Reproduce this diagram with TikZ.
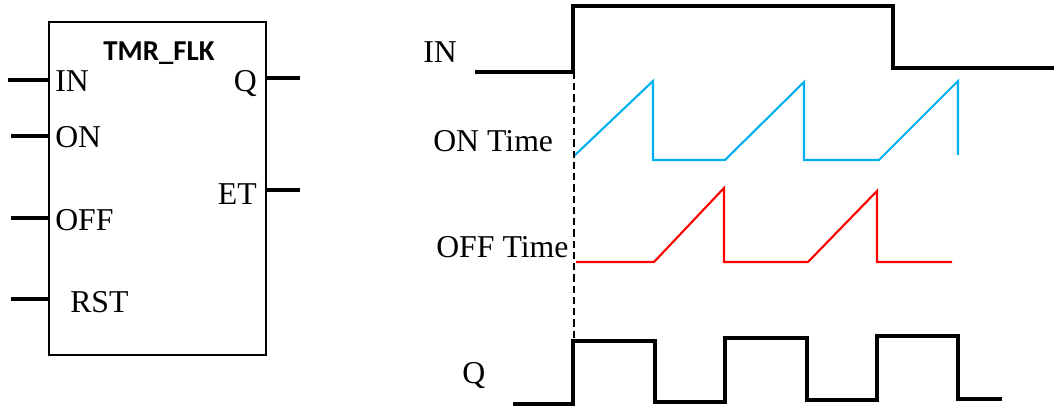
\documentclass[tikz,border=0pt]{standalone}
\usepackage{fontspec}
\setmainfont{Liberation Serif}
\newfontfamily\titlefont{Carlito}
\usetikzlibrary{positioning,calc}
\definecolor{ontime}{HTML}{00B0F0}
\definecolor{offtime}{HTML}{FF0000}

\begin{document}
\begin{tikzpicture}[x=0.025cm, y=-0.025cm,
    fblock/.style={draw, rectangle, line width=2pt, minimum width=5.425cm, minimum height=8.325cm, inner sep=0pt},
    pin/.style={line width=2.2pt},
    pinlabel/.style={font=\fontsize{22.6}{26}\selectfont, inner sep=0pt},
    title/.style={font=\titlefont\bfseries\fontsize{20.5}{24}\selectfont, inner sep=0pt},
    wave/.style={line width=2.4pt, line join=miter},
    ramp/.style={line width=1.5pt},
    marker/.style={line width=1.5pt, dash pattern=on 5pt off 3pt},
]
\useasboundingbox (0,0) rectangle (1054,407);

% Function block
\node[fblock] (fb) at (157.5,188.5) {};
\node[title] (fbname) at (159,53) {TMR\_FLK};

% Inputs
\coordinate (inIN) at (8,80);
\coordinate (inON) at (11,136);
\coordinate (inOFF) at (11,218);
\coordinate (inRST) at (11,299);
\draw[pin] (inIN) -- (inIN -| fb.west);
\draw[pin] (inON) -- (inON -| fb.west);
\draw[pin] (inOFF) -- (inOFF -| fb.west);
\draw[pin] (inRST) -- (inRST -| fb.west);
\node[pinlabel, anchor=base west] (lIN) at (55,92) {IN};
\node[pinlabel, anchor=base west] (lON) at (55,148) {ON};
\node[pinlabel, anchor=base west] (lOFF) at (55,230) {OFF};
\node[pinlabel, anchor=base west] (lRST) at (70,312) {RST};

% Outputs
\coordinate (outQ) at (300,78);
\coordinate (outET) at (300,190);
\draw[pin] (outQ -| fb.east) -- (outQ);
\draw[pin] (outET -| fb.east) -- (outET);
\node[pinlabel, anchor=base east] (lQ) at (257,92) {Q};
\node[pinlabel, anchor=base east] (lET) at (257,204) {ET};

% Timing labels
\node[pinlabel, anchor=base west] (tIN) at (423,63) {IN};
\node[pinlabel, anchor=base west] (tON) at (433,152) {ON Time};
\node[pinlabel, anchor=base west] (tOFF) at (436,257) {OFF Time};
\node[pinlabel, anchor=base west] (tQ) at (462,383) {Q};

% IN signal
\draw[wave] (475,72) -- (573,72) -- (573,6) -- (893,6) -- (893,68) -- (1054,68);

% ON time
\draw[ramp, ontime] (574,156) -- (653,81) -- (653,160) -- (725,160) -- (804,82) -- (804,160) -- (879,160) -- (958,81) -- (958,155);

% OFF time
\draw[ramp, offtime] (576,262) -- (654,262) -- (724,188) -- (724,262) -- (808,262) -- (877,191) -- (877,262) -- (952,262);

% Q output
\draw[wave] (513,404) -- (573,404) -- (573,341) -- (655,341) -- (655,402) -- (725,402) -- (725,338) -- (807,338) -- (807,400) -- (877,400) -- (877,336) -- (958,336) -- (958,399) -- (1002,399);

% Start marker
\draw[marker] (574,72) -- (574,404);

\end{tikzpicture}
\end{document}
